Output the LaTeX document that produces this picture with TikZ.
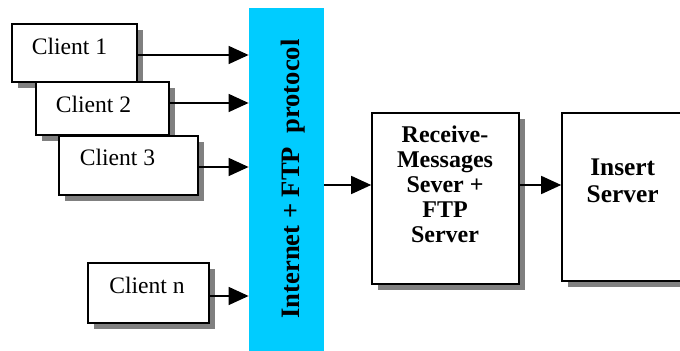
\documentclass[tikz,border=0pt]{standalone}
\usepackage{fontspec}
\setmainfont{Liberation Serif}
\usetikzlibrary{arrows.meta,shadows}
\definecolor{netblue}{RGB}{0,204,255}
\definecolor{shade}{RGB}{128,128,128}

\begin{document}
\begin{tikzpicture}[x=0.5pt,y=-0.5pt,
    box/.style={draw,line width=0.8pt,fill=white,inner sep=0pt,
      drop shadow={shadow xshift=3pt,shadow yshift=-3pt,fill=shade,opacity=1}},
    ctext/.style={anchor=base,font=\fontsize{11.8pt}{13pt}\selectfont},
    arr/.style={line width=0.75pt,-{Triangle[length=10pt,width=9pt]}}]
  \useasboundingbox (0,0) rectangle (680,351);
  \clip (0,0) rectangle (680,351);

  % clients
  \node[box,minimum width=62.5pt,minimum height=29pt] (c1) at (74.5,53) {};
  \node[ctext] at (69.5,55) {Client 1};
  \node[box,minimum width=66.5pt,minimum height=26.5pt] (c2) at (102.5,108.5) {};
  \node[ctext] at (93.5,113) {Client 2};
  \node[box,minimum width=69.5pt,minimum height=29.5pt] (c3) at (128.5,165.5) {};
  \node[ctext] at (117.5,166) {Client 3};
  \node[box,minimum width=60.5pt,minimum height=30pt] (cn) at (148.5,293) {};
  \node[ctext] at (147,294) {Client n};

  % network bar
  \node[fill=netblue,inner sep=0pt,minimum width=37.5pt,minimum height=173.5pt] (net) at (286.5,181.5) {};
  \node[rotate=90,font=\bfseries\fontsize{13.3pt}{15pt}\selectfont] at (293,179)
    {Internet\ +\ FTP\ \ protocol};

  % servers
  \node[box,minimum width=73.5pt,minimum height=85.5pt] (recv) at (445.5,198.5) {};
  \node[align=center,font=\bfseries\fontsize{12pt}{12.5pt}\selectfont] at (445,184.5)
    {Receive-\\Messages\\Sever +\\FTP\\Server};
  \node[box,minimum width=61pt,minimum height=84pt] (ins) at (623,197) {};
  \node[align=center,font=\bfseries\fontsize{12.7pt}{13.5pt}\selectfont] at (622.7,180.7)
    {Insert\\Server};

  \foreach \c/\y in {c1/55,c2/103,c3/167,cn/296}
    \draw[arr] (\c.east |- 0,\y) -- (net.west |- 0,\y);
  \draw[arr] (net.east |- 0,185) -- (recv.west |- 0,185);
  \draw[arr] (recv.east |- 0,185) -- (ins.west |- 0,185);
\end{tikzpicture}
\end{document}
